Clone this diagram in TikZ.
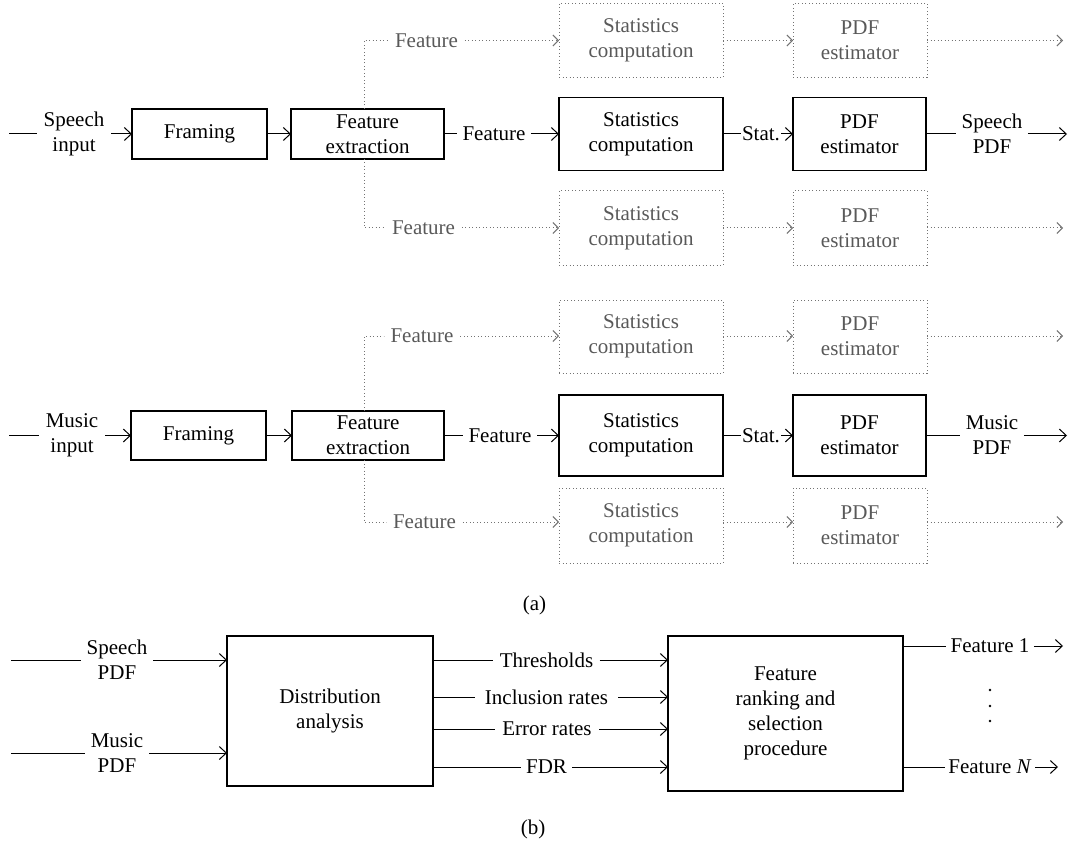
\documentclass[tikz,border=0pt]{standalone}
\usepackage{fontspec}
\setmainfont{Liberation Serif}
\usetikzlibrary{arrows.meta}
\tikzset{
  every node/.style={font=\fontsize{21}{25}\selectfont},
  box/.style={draw, line width=1.2pt, inner sep=0pt, outer sep=0pt, align=center},
  dbox/.style={draw=black!55, line width=1pt, dash pattern=on 1pt off 2.5pt, inner sep=0pt, outer sep=0pt, align=center, text=black!65},
  lbl/.style={inner ysep=0pt, outer sep=0pt, align=center},
  glbl/.style={lbl, text=black!65},
  conn/.style={line width=1pt},
  arr/.style={conn, -{Straight Barb[length=7pt,width=13pt]}},
  dline/.style={line width=1pt, draw=black!55, dash pattern=on 1pt off 2.5pt},
  darr/.style={dline, -{Straight Barb[length=5.5pt,width=11pt,line width=0.9pt]}},
}
\begin{document}
\begin{tikzpicture}[x=1pt,y=-1pt]
\useasboundingbox (0,0) rectangle (1071,845);

% ---------------- (a) speech row ----------------
\coordinate (sIn) at (9,134);
\node[lbl, inner xsep=7pt] (sinl) at (74,134) {Speech\\input};
\node[box, minimum width=135pt, minimum height=50pt] (fr1) at (199.5,134) {Framing};
\node[box, minimum width=153pt, minimum height=50pt] (fe1) at (367.5,134) {Feature\\extraction};
\node[lbl, inner xsep=5.5pt] (ff1) at (494,134) {Feature};
\node[box, minimum width=164pt, minimum height=73pt] (st1) at (641,134) {Statistics\\computation};
\node[lbl, inner xsep=1.5pt] (sl1) at (761,134) {Stat.};
\node[box, minimum width=133pt, minimum height=73pt] (pd1) at (859.5,134) {PDF\\estimator};
\node[lbl, inner xsep=5.5pt] (so1) at (992,134) {Speech\\PDF};
\coordinate (sOut) at (1067,134);

\draw[conn] (sIn) -- (sinl);
\draw[arr] (sinl) -- (fr1);
\draw[arr] (fr1) -- (fe1);
\draw[conn] (fe1) -- (ff1);
\draw[arr] (ff1) -- (st1);
\draw[conn] (st1) -- (sl1);
\draw[arr] (sl1) -- (pd1);
\draw[conn] (pd1) -- (so1);
\draw[arr] (so1) -- (sOut);

% speech top dotted branch
\node[glbl, inner xsep=7pt] (ft1) at (426.5,40.5) {Feature};
\node[dbox, minimum width=164pt, minimum height=74pt] (sd1) at (641,40.5) {Statistics\\computation};
\node[dbox, minimum width=134pt, minimum height=74pt] (pdd1) at (860,40.5) {PDF\\estimator};
\coordinate (eT1) at (1063,40.5);
\draw[dline] ([xshift=-3.5pt]fe1.north) |- (ft1);
\draw[darr] (ft1) -- (sd1.west |- ft1);
\draw[darr] (sd1.east |- ft1) -- (pdd1.west |- ft1);
\draw[darr] (pdd1.east |- ft1) -- (eT1);

% speech bottom dotted branch
\node[glbl, inner xsep=7pt] (fb1) at (423.5,228) {Feature};
\node[dbox, minimum width=164pt, minimum height=74pt] (sb1) at (641,228) {Statistics\\computation};
\node[dbox, minimum width=134pt, minimum height=74pt] (pb1) at (860,228) {PDF\\estimator};
\coordinate (eB1) at (1063,228);
\draw[dline] ([xshift=-3.5pt]fe1.south) |- (fb1);
\draw[darr] (fb1) -- (sb1.west |- fb1);
\draw[darr] (sb1.east |- fb1) -- (pb1.west |- fb1);
\draw[darr] (pb1.east |- fb1) -- (eB1);

% ---------------- (a) music row ----------------
\coordinate (mIn) at (9,435.5);
\node[lbl, inner xsep=7pt] (minl) at (72,435.5) {Music\\input};
\node[box, minimum width=135pt, minimum height=49pt] (fr2) at (198.5,435.5) {Framing};
\node[box, minimum width=152pt, minimum height=49pt] (fe2) at (368,435.5) {Feature\\extraction};
\node[lbl, inner xsep=6pt] (ff2) at (500,435.5) {Feature};
\node[box, minimum width=164pt, minimum height=81pt] (st2) at (641,435.5) {Statistics\\computation};
\node[lbl, inner xsep=1.5pt] (sl2) at (761,435.5) {Stat.};
\node[box, minimum width=133pt, minimum height=81pt] (pd2) at (859.5,435.5) {PDF\\estimator};
\node[lbl, inner xsep=5.5pt] (so2) at (992,435.5) {Music\\PDF};
\coordinate (mOut) at (1067,435.5);

\draw[conn] (mIn) -- (minl);
\draw[arr] (minl) -- (fr2);
\draw[arr] (fr2) -- (fe2);
\draw[conn] (fe2) -- (ff2);
\draw[arr] (ff2) -- (st2);
\draw[conn] (st2) -- (sl2);
\draw[arr] (sl2) -- (pd2);
\draw[conn] (pd2) -- (so2);
\draw[arr] (so2) -- (mOut);

% music top dotted branch
\node[glbl, inner xsep=7pt] (ft2) at (422,336) {Feature};
\node[dbox, minimum width=164pt, minimum height=73pt] (sd2) at (641,336.5) {Statistics\\computation};
\node[dbox, minimum width=134pt, minimum height=73pt] (pdd2) at (860,336.5) {PDF\\estimator};
\coordinate (eT2) at (1063,336);
\draw[dline] ([xshift=-4pt]fe2.north) |- (ft2);
\draw[darr] (ft2) -- (sd2.west |- ft2);
\draw[darr] (sd2.east |- ft2) -- (pdd2.west |- ft2);
\draw[darr] (pdd2.east |- ft2) -- (eT2);

% music bottom dotted branch
\node[glbl, inner xsep=7pt] (fb2) at (424.5,522) {Feature};
\node[dbox, minimum width=164pt, minimum height=75pt] (sb2) at (641,525.5) {Statistics\\computation};
\node[dbox, minimum width=134pt, minimum height=75pt] (pb2) at (860,525.5) {PDF\\estimator};
\coordinate (eB2) at (1063,522);
\draw[dline] ([xshift=-4pt]fe2.south) |- (fb2);
\draw[darr] (fb2) -- (sb2.west |- fb2);
\draw[darr] (sb2.east |- fb2) -- (pb2.west |- fb2);
\draw[darr] (pb2.east |- fb2) -- (eB2);

\node[lbl] (capa) at (534.5,605) {(a)};

% ---------------- (b) ----------------
\coordinate (bS) at (11,660);
\coordinate (bM) at (11,753);
\node[lbl, inner xsep=6pt] (bsl) at (117,660) {Speech\\PDF};
\node[lbl, inner xsep=6pt] (bml) at (117,753) {Music\\PDF};
\node[box, minimum width=206pt, minimum height=150pt] (dist) at (330,711) {Distribution\\analysis};
\node[box, minimum width=235pt, minimum height=155pt] (rank) at (785.5,713.5) {Feature\\ranking and\\selection\\procedure};

\draw[conn] (bS) -- (bsl);
\draw[arr] (bsl) -- (dist.west |- bsl);
\draw[conn] (bM) -- (bml);
\draw[arr] (bml) -- (dist.west |- bml);

\node[lbl, inner xsep=6.5pt] (thr) at (546.5,660) {Thresholds};
\node[lbl, inner xsep=10pt] (inc) at (546.5,697) {Inclusion rates};
\node[lbl, inner xsep=7.5pt] (err) at (547,729) {Error rates};
\node[lbl, inner xsep=5.5pt] (fdr) at (546.5,767) {FDR};
\foreach \n in {thr,inc,err,fdr}{
  \draw[conn] (dist.east |- \n) -- (\n);
  \draw[arr] (\n) -- (rank.west |- \n);
}

\node[lbl, inner xsep=4.5pt] (f1) at (990,646) {Feature 1};
\node[lbl, inner xsep=3.5pt] (fN) at (990,767) {Feature \textit{N}};
\coordinate (ef1) at (1063,646);
\coordinate (efN) at (1058,767);
\draw[conn] (rank.east |- f1) -- (f1);
\draw[arr] (f1) -- (ef1);
\draw[conn] (rank.east |- fN) -- (fN);
\draw[arr] (fN) -- (efN);
\fill (990,690) circle (1.4);
\fill (990,706) circle (1.4);
\fill (990,721) circle (1.4);

\node[lbl] (capb) at (533,829) {(b)};
\end{tikzpicture}
\end{document}
